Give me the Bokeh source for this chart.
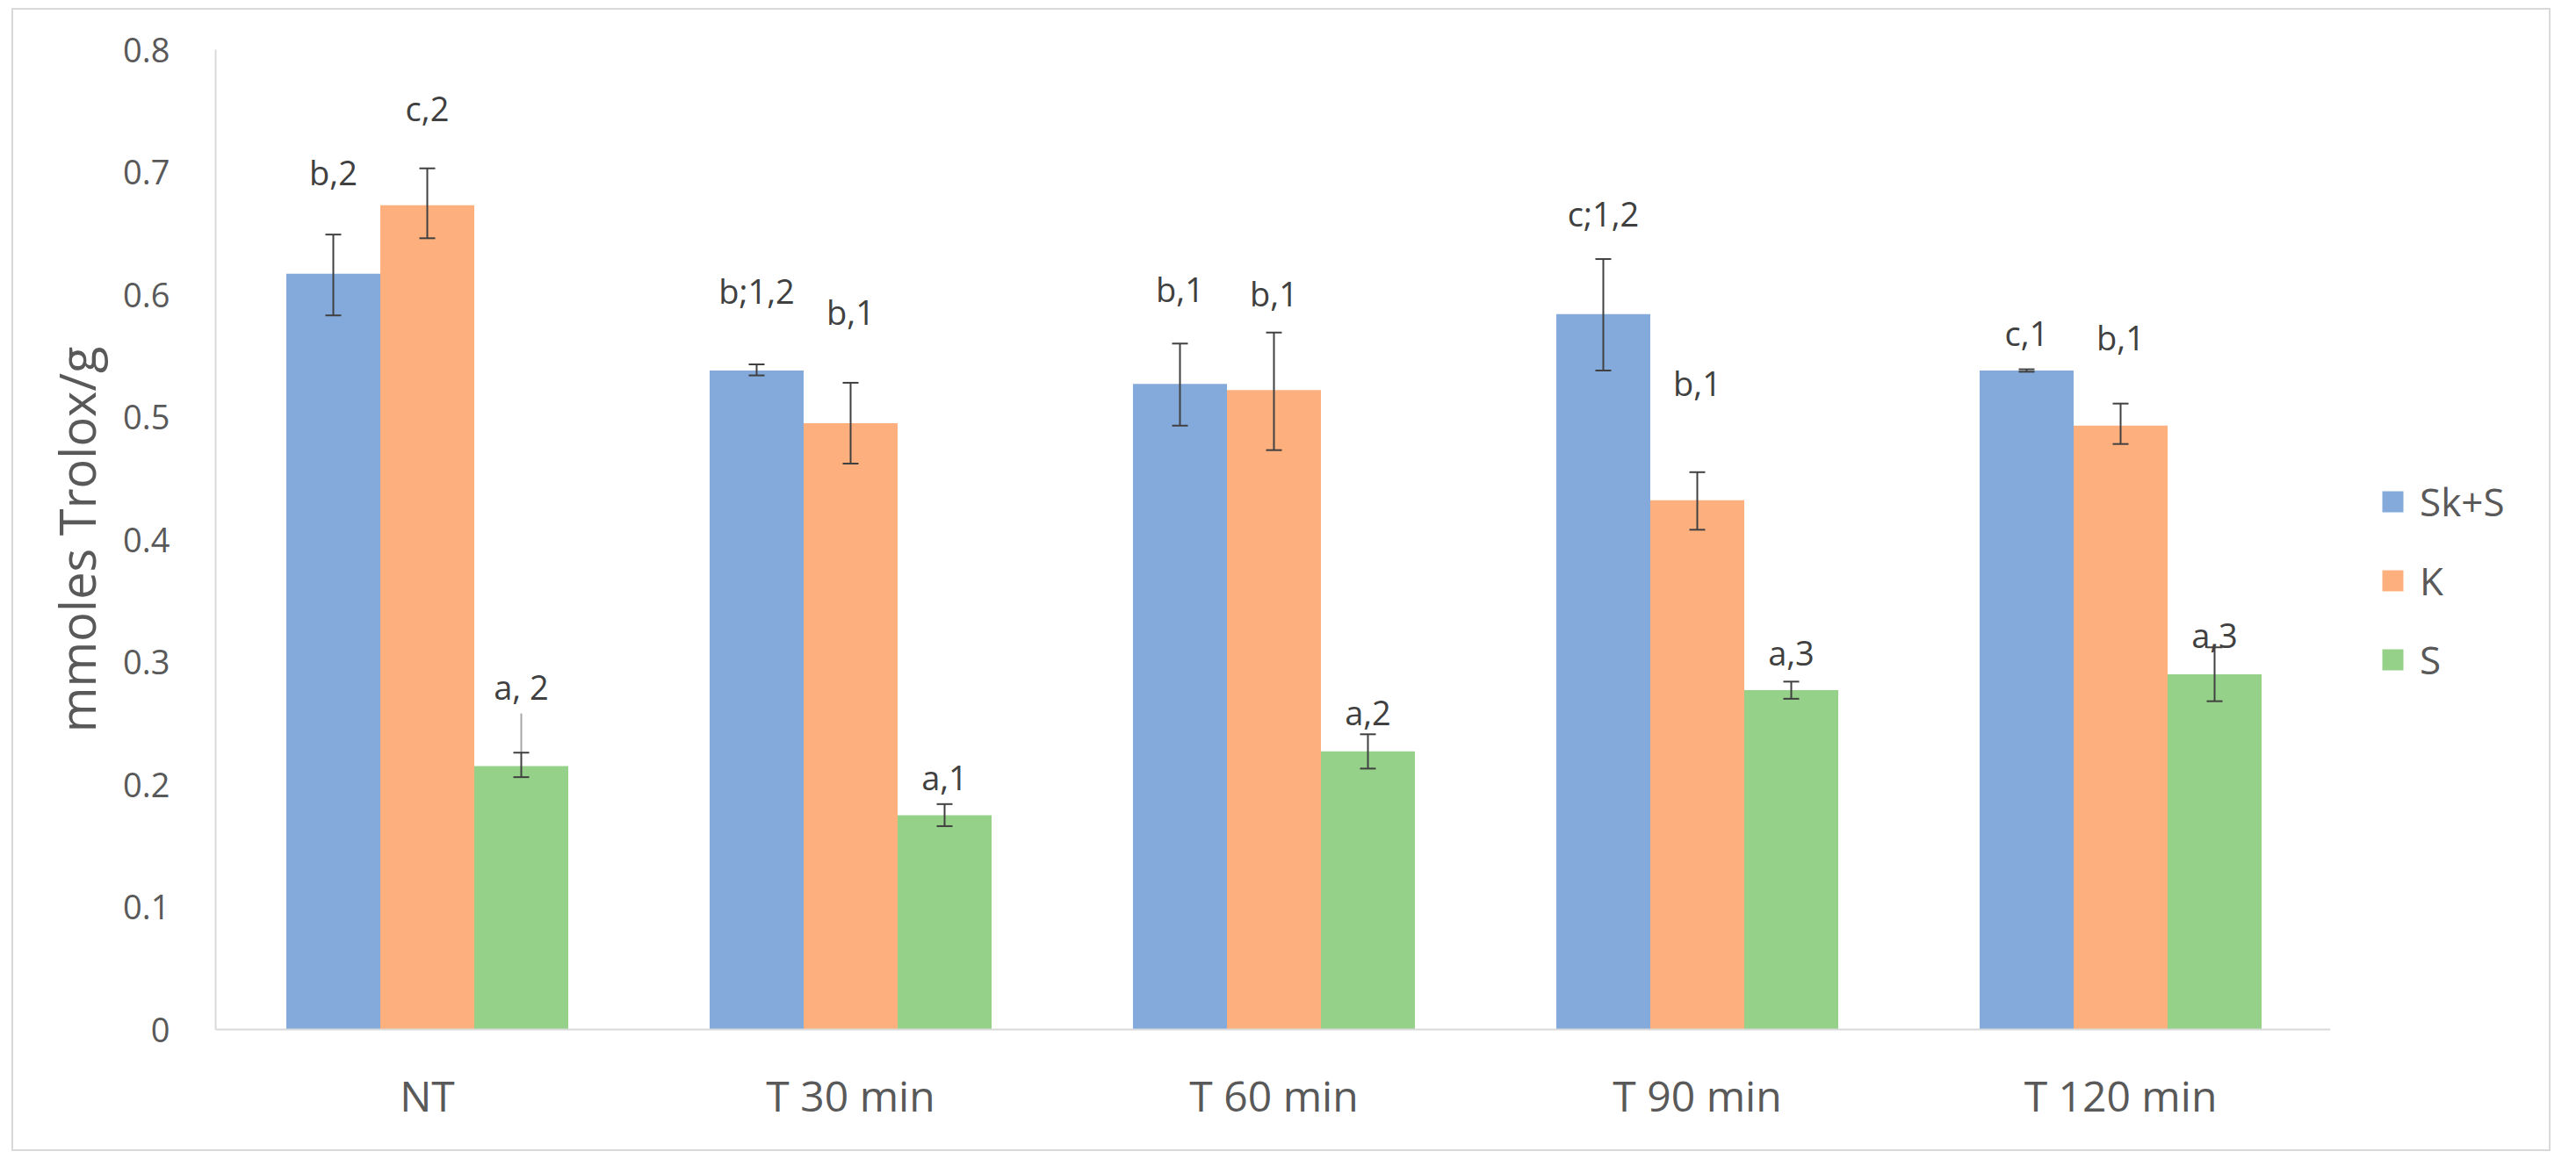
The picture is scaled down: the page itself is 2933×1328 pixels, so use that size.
from bokeh.plotting import figure
from bokeh.layouts import row
from bokeh.models import (ColumnDataSource, FactorRange, Range1d, Whisker, TeeHead,
                          Legend, LegendItem, FixedTicker, CustomJSTickFormatter)
from bokeh.transform import dodge
from bokeh.core.properties import value
from bokeh.embed import file_html
from bokeh.resources import INLINE

# ---------------- data ----------------
categories = ["NT", "T 30 min", "T 60 min", "T 90 min", "T 120 min"]
series_names = ["Sk+S", "K", "S"]

sks_values = [0.617, 0.538, 0.527, 0.584, 0.538]
sks_err_hi = [0.649, 0.543, 0.560, 0.629, 0.539]
sks_err_lo = [0.583, 0.534, 0.493, 0.538, 0.537]

k_values = [0.673, 0.495, 0.522, 0.432, 0.493]
k_err_hi = [0.703, 0.528, 0.569, 0.455, 0.511]
k_err_lo = [0.646, 0.462, 0.473, 0.408, 0.478]

s_values = [0.215, 0.175, 0.227, 0.277, 0.290]
s_err_hi = [0.226, 0.184, 0.241, 0.284, 0.312]
s_err_lo = [0.206, 0.166, 0.213, 0.270, 0.268]
s_err_ext = [0.258, float("nan"), float("nan"), float("nan"), float("nan")]

sks_labels = ["b,2", "b;1,2", "b,1", "c;1,2", "c,1"]
k_labels = ["c,2", "b,1", "b,1", "b,1", "b,1"]
s_labels = ["a, 2", "a,1", "a,2", "a,3", "a,3"]

sks_label_y = [0.700, 0.603, 0.605, 0.666, 0.569]
k_label_y = [0.752, 0.586, 0.601, 0.528, 0.565]
s_label_y = [0.280, 0.206, 0.259, 0.308, 0.322]

y_ticks = [0, 0.1, 0.2, 0.3, 0.4, 0.5, 0.6, 0.7, 0.8]

# ---------------- styling ----------------
FONT = "Open Sans"
TXT = "#595959"
LBL = "#404040"
BORDER = "2px solid #d9d9d9"
colors = ["#84AADC", "#FDB07E", "#96D18A"]
BW = 0.222
offsets = [-BW, 0.0, BW]

src = ColumnDataSource(dict(
    cat=categories,
    sks=sks_values, sks_hi=sks_err_hi, sks_lo=sks_err_lo, sks_lab=sks_labels, sks_ly=sks_label_y,
    k=k_values, k_hi=k_err_hi, k_lo=k_err_lo, k_lab=k_labels, k_ly=k_label_y,
    s=s_values, s_hi=s_err_hi, s_lo=s_err_lo, s_ext=s_err_ext, s_lab=s_labels, s_ly=s_label_y,
))

p = figure(x_range=FactorRange(*categories, range_padding=0),
           y_range=Range1d(0, 0.8),
           width=2640, height=1302,
           output_backend="svg", toolbar_location=None,
           min_border_left=230, min_border_right=0,
           min_border_top=45, min_border_bottom=141)
p.margin = (9, 0, 0, 13)
p.styles = {"border-left": BORDER, "border-top": BORDER, "border-bottom": BORDER}
p.xgrid.grid_line_color = None
p.ygrid.grid_line_color = None
p.outline_line_color = None
p.background_fill_color = "white"
p.border_fill_color = "white"

keys = ["sks", "k", "s"]
renderers = []
for key, off, col in zip(keys, offsets, colors):
    xd = dodge("cat", off, range=p.x_range)
    r = p.vbar(x=xd, top=key, width=BW, source=src,
               fill_color=col, line_color=None)
    renderers.append(r)

# thin extension on NT S error bar
xs = dodge("cat", offsets[2], range=p.x_range)
p.segment(x0=xs, y0="s_hi", x1=xs, y1="s_ext", source=src,
          line_color="#a6a6a6", line_width=2)

for key, off in zip(keys, offsets):
    xd = dodge("cat", off, range=p.x_range)
    w = Whisker(source=src, base=xd, upper=key + "_hi", lower=key + "_lo",
                line_color=LBL, line_width=2, level="overlay",
                upper_head=TeeHead(size=18, line_color=LBL, line_width=2),
                lower_head=TeeHead(size=18, line_color=LBL, line_width=2))
    p.add_layout(w)

for key, off in zip(keys, offsets):
    xd = dodge("cat", off, range=p.x_range)
    p.text(x=xd, y=key + "_ly", text=key + "_lab", source=src,
           text_align="center", text_baseline="middle",
           text_font=value(FONT), text_font_size=value("38px"),
           text_color=LBL)

# axes
p.yaxis.ticker = FixedTicker(ticks=y_ticks)
p.yaxis.formatter = CustomJSTickFormatter(code="return tick == 0 ? '0' : tick.toFixed(1);")
p.yaxis.major_label_text_font = FONT
p.yaxis.major_label_text_font_size = "38px"
p.yaxis.major_label_text_color = TXT
p.yaxis.major_label_standoff = 46
p.yaxis.axis_line_color = "#d9d9d9"
p.yaxis.axis_line_width = 2
p.yaxis.major_tick_line_color = None
p.yaxis.minor_tick_line_color = None
p.yaxis.axis_label = "mmoles Trolox/g"
p.yaxis.axis_label_text_font = FONT
p.yaxis.axis_label_text_font_size = "56px"
p.yaxis.axis_label_text_font_style = "normal"
p.yaxis.axis_label_text_color = TXT
p.yaxis.axis_label_standoff = 12

p.xaxis.major_label_text_font = FONT
p.xaxis.major_label_text_font_size = "48px"
p.xaxis.major_label_text_color = TXT
p.xaxis.major_label_standoff = 36
p.xaxis.axis_line_color = "#d9d9d9"
p.xaxis.axis_line_width = 2
p.xaxis.major_tick_line_color = None
p.xaxis.minor_tick_line_color = None

# ---------------- legend panel ----------------
pl = figure(width=251, height=1302, x_range=Range1d(0, 1), y_range=Range1d(0, 1),
            x_axis_type=None, y_axis_type=None,
            output_backend="svg", toolbar_location=None,
            min_border_left=0, min_border_right=0, min_border_top=0, min_border_bottom=0)
pl.margin = (9, 0, 0, 0)
pl.styles = {"border-right": BORDER, "border-top": BORDER, "border-bottom": BORDER}
pl.xgrid.grid_line_color = None
pl.ygrid.grid_line_color = None
pl.outline_line_color = None
pl.background_fill_color = "white"
pl.border_fill_color = "white"

# legend proxies: one off-range datum each, only used for the legend swatches
leg_renderers = [pl.vbar(x=[-5], top=[-5], bottom=[-6], width=0.1, fill_color=c, line_color=None)
                 for c in colors]

legend = Legend(items=[LegendItem(label=n, renderers=[r]) for n, r in zip(series_names, leg_renderers)],
                location=(56, 391), orientation="vertical",
                glyph_width=30, glyph_height=30, label_height=58,
                spacing=30, padding=10, margin=0, label_standoff=16,
                label_text_font=FONT, label_text_font_size="44px",
                label_text_color=TXT, border_line_color=None,
                background_fill_alpha=0)
pl.add_layout(legend, "center")

layout = row(p, pl)
open("out.html", "w").write(file_html(layout, INLINE))
